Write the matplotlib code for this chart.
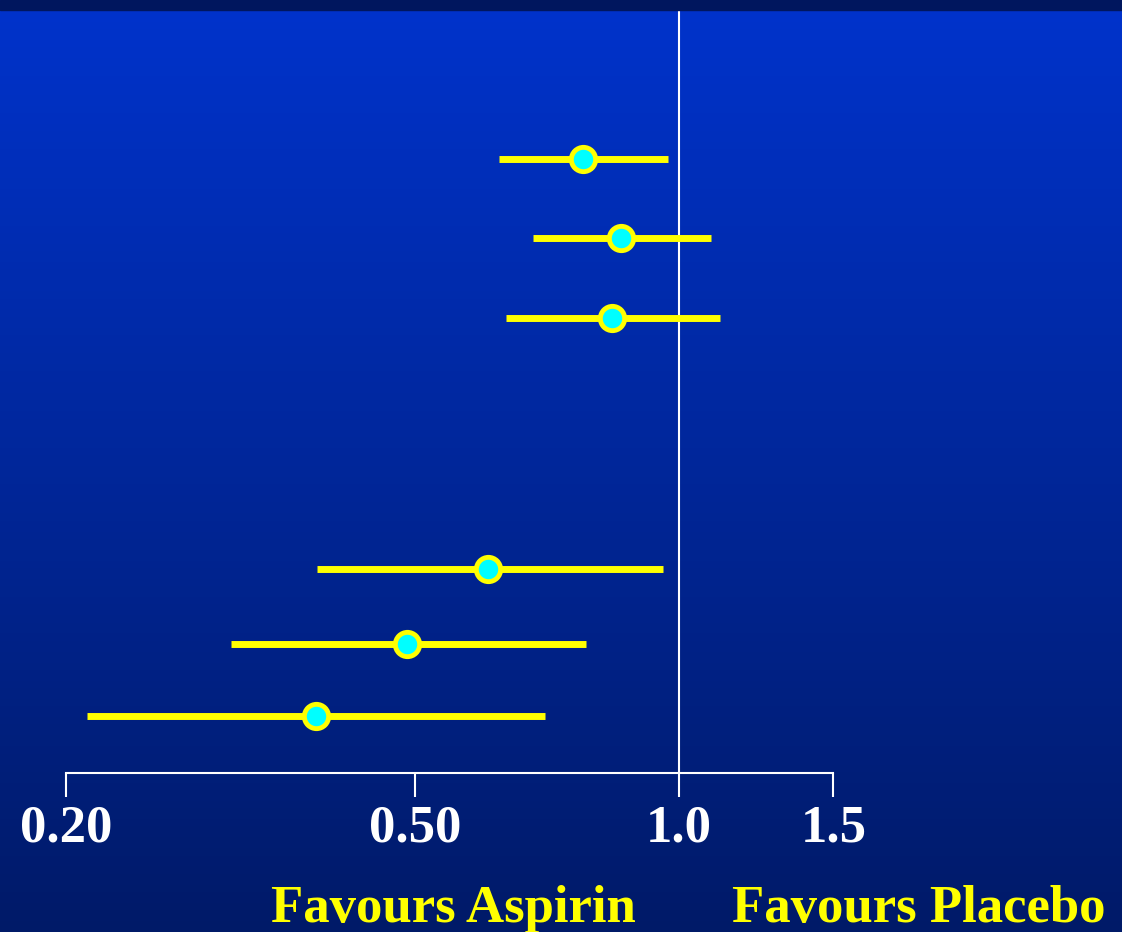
import numpy as np
import matplotlib
matplotlib.use("Agg")
import matplotlib.pyplot as plt
from matplotlib.patches import Rectangle

plt.rcParams['font.family'] = ['Liberation Serif', 'DejaVu Serif']
plt.rcParams['font.weight'] = 'bold'

# Odds ratios with 95% CI (top to bottom)
rows = [1, 2, 3, 6.15, 7.1, 8]
odds_ratio = [0.777, 0.859, 0.839, 0.606, 0.490, 0.385]
ci_low = [0.623, 0.682, 0.635, 0.386, 0.308, 0.211]
ci_high = [0.971, 1.088, 1.114, 0.959, 0.783, 0.703]

tick_values = [0.2, 0.5, 1.0, 1.5]
tick_labels = ['0.20', '0.50', '1.0', '1.5']

W, H = 1122, 932
fig = plt.figure(figsize=(W / 100, H / 100), dpi=100)

# background gradient
bg = fig.add_axes([0, 0, 1, 1])
top = np.array([0, 51, 204]) / 255
bottom = np.array([0, 26, 104]) / 255
t = np.linspace(0, 1, 256)[:, None]
grad = (top * (1 - t) + bottom * t)[:, None, :]
bg.imshow(grad, aspect='auto', extent=[0, 1, 0, 1])
bg.set_axis_off()
fig.patches.append(Rectangle((0, 1 - 10 / H), 1, 10 / H, transform=fig.transFigure,
                             color='#00165e', zorder=5))

ax = fig.add_axes([0, (H - 773) / H, 1, (773 - 10) / H])
ax.patch.set_visible(False)
ax.set_xscale('log')
ax.set_xlim(0.1681, 3.20)
ax.set_ylim(8.72, -0.87)

ax.axvline(1.0, ymin=0, ymax=1 + 3 / 763, color='white', lw=1.5, clip_on=False)
ax.hlines(rows, ci_low, ci_high, color='#ffff00', lw=5, zorder=3)
ax.plot(odds_ratio, rows, 'o', ms=17.5, mfc='#00ffff', mec='#ffff00', mew=3.5, zorder=4)

for s in ['top', 'left', 'right']:
    ax.spines[s].set_visible(False)
ax.spines['bottom'].set_color('white')
ax.spines['bottom'].set_linewidth(1.5)
ax.spines['bottom'].set_bounds(0.2, 1.5)
ax.set_yticks([])
ax.set_xticks(tick_values)
ax.set_xticklabels(tick_labels)
ax.xaxis.set_minor_locator(matplotlib.ticker.NullLocator())
ax.tick_params(axis='x', direction='out', length=17.3, width=1.5, color='white',
               labelcolor='white', labelsize=38, pad=5.5)

fig.text(453.5 / W, 1 - 922 / H, 'Favours Aspirin', color='#ffff00', fontsize=38,
         ha='center', va='baseline', fontweight='bold')
fig.text(919 / W, 1 - 922 / H, 'Favours Placebo', color='#ffff00', fontsize=38,
         ha='center', va='baseline', fontweight='bold')

fig.savefig('out.png', dpi=100)
